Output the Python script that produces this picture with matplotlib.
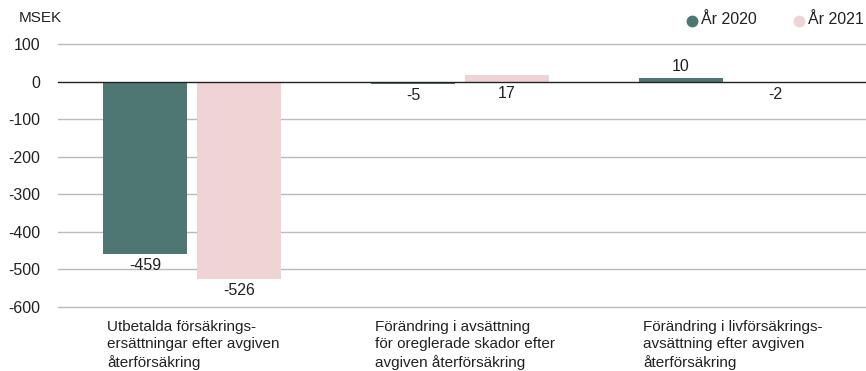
import matplotlib.pyplot as plt
from matplotlib.lines import Line2D
import numpy as np

plt.rcParams['font.family'] = ['Liberation Sans', 'DejaVu Sans']

categories = ["Utbetalda försäkrings-\nersättningar efter avgiven\nåterförsäkring",
              "Förändring i avsättning\nför oreglerade skador efter\navgiven återförsäkring",
              "Förändring i livförsäkrings-\navsättning efter avgiven\nåterförsäkring"]
series_names = ["År 2020", "År 2021"]
values_2020 = [-459, -5, 10]
values_2021 = [-526, 17, -2]
yticks = [100, 0, -100, -200, -300, -400, -500, -600]

col_2020 = '#4e7672'
col_2021 = '#f0d3d5'
txt = '#222222'
# where the value label sits: above the bar top or below the zero line / bar end
label_above_2020 = [False, False, True]
label_above_2021 = [False, False, False]

fig = plt.figure(figsize=(8.66, 3.71), dpi=100)
ax = fig.add_axes([0.067, 0.1725, 0.933, 0.7085])

x = np.arange(len(categories))
w = 0.313
off = 0.175

for vals, xs, col, above in [(values_2020, x - off, col_2020, label_above_2020),
                             (values_2021, x + off, col_2021, label_above_2021)]:
    ax.bar(xs, vals, width=w, color=col, zorder=3)
    for xi, v, a in zip(xs, vals, above):
        if a:
            ax.annotate(str(v), (xi, max(v, 0)), xytext=(0, 3), textcoords='offset points',
                        ha='center', va='bottom', fontsize=11.5, color=txt)
        else:
            ax.annotate(str(v), (xi, min(v, 0)), xytext=(0, -3), textcoords='offset points',
                        ha='center', va='top', fontsize=11.5, color=txt)

ax.set_xlim(-0.5, 2.515)
ax.set_ylim(-600, 100)
ax.set_yticks(yticks)
ax.set_yticklabels([str(t) for t in yticks], fontsize=11.5, color=txt)
ax.tick_params(axis='y', length=0, pad=13)
ax.set_xticks([])
for t in yticks:
    if t == 0:
        ax.axhline(0, color=txt, lw=1, zorder=4, clip_on=False)
    else:
        ax.axhline(t, color='#bbbbbb', lw=1, zorder=1, clip_on=False)
for s in ax.spines.values():
    s.set_visible(False)

# category labels, left aligned under the first bar of each group
for xi, lab in zip(x, categories):
    ax.text(xi - off - w / 2 + 0.015, -0.05, lab, transform=ax.get_xaxis_transform(),
            ha='left', va='top', fontsize=11, color=txt, linespacing=1.3)

fig.text(19 / 866, 1 - 18 / 371, "MSEK", fontsize=11, color=txt, va='center')

# legend
for xp, name, col in [(692, series_names[0], col_2020), (799, series_names[1], col_2021)]:
    fig.add_artist(Line2D([xp / 866], [1 - 21 / 371], marker='o', markersize=7.5, color=col,
                          transform=fig.transFigure, linestyle='none'))
    fig.text((xp + 9) / 866, 1 - 20 / 371, name, fontsize=11.5, color=txt, va='center')

fig.savefig('out.png', dpi=100)
